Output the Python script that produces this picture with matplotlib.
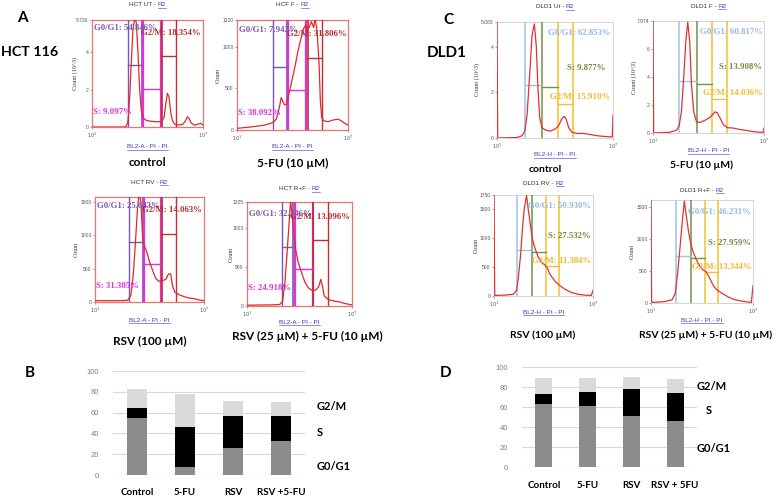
import numpy as np
import matplotlib
matplotlib.use("Agg")
import matplotlib.pyplot as plt
from matplotlib.lines import Line2D

# ---------------- data ----------------
# cell-cycle percentages (control, 5-FU, RSV, RSV+5-FU)
HCT_G0G1 = [54.846, 7.942, 25.643, 32.246]
HCT_S = [9.097, 38.092, 31.305, 24.918]
HCT_G2M = [18.354, 31.806, 14.063, 13.096]
DLD_G0G1 = [62.853, 60.817, 50.930, 46.231]
DLD_S = [9.877, 13.908, 27.532, 27.959]
DLD_G2M = [15.910, 14.036, 11.384, 13.344]

HCT_BAR_CATS = ["Control", "5-FU", "RSV", "RSV +5-FU"]
DLD_BAR_CATS = ["Control", "5-FU", "RSV", "RSV + 5FU"]

# histogram traces: x = position along the log PI axis (% of axis), y = count
HCT_UT_X = [0, 29.4, 30.9, 32.4, 33.9, 35.4, 36.9, 38.4, 39.9, 41.4, 42.9, 44.4, 45.9, 48.9, 53.5, 59.5, 62.5,
            64.9, 66.4, 67.9, 69.4, 70.9, 72.4, 74.5, 77.5, 82.0, 84.4, 85.9, 87.4, 89.5, 92.5, 95.5, 97.9, 100]
HCT_UT_Y = [0, 0, 0.05, 0.3, 1.5, 3.5, 5.2, 5.8, 5.6, 4.0, 2.0, 0.9, 0.5, 0.35, 0.3, 0.28, 0.3,
            0.5, 1.2, 1.8, 1.6, 0.8, 0.35, 0.15, 0.1, 0.15, 0.35, 0.55, 0.45, 0.2, 0.1, 0.15, 0.2, 0.1]
HCT_F_X = [0, 11.4, 23.4, 29.4, 32.4, 35.4, 37.8, 39.9, 41.4, 42.9, 44.4, 46.2, 48.9, 51.9, 55.0, 58.0, 60.1,
           61.9, 63.1, 64.9, 67.0, 69.1, 70.3, 72.1, 73.9, 75.1, 76.3, 78.1, 82.0, 86.5, 91.0, 94.0, 97.0, 100]
HCT_F_Y = [20, 35, 55, 75, 90, 130, 250, 390, 340, 300, 310, 400, 560, 740, 950, 1120, 1220,
           1260, 1200, 1230, 1300, 1230, 1340, 1200, 800, 350, 150, 110, 100, 120, 130, 110, 80, 60]
HCT_RV_X = [0, 23.8, 29.9, 32.9, 35.1, 37.5, 39.0, 40.5, 42.1, 43.6, 45.1, 47.6, 49.7, 52.7, 55.8, 58.8, 61.9,
            65.0, 67.4, 69.5, 71.0, 73.2, 77.1, 81.7, 86.3, 90.9, 95.4, 100]
HCT_RV_Y = [20, 20, 25, 100, 400, 1000, 1400, 1650, 1500, 1000, 850, 750, 620, 480, 350, 310, 320,
            340, 420, 420, 250, 150, 110, 80, 60, 50, 30, 20]
HCT_RF_X = [0, 24.9, 31.3, 33.9, 36.1, 38.3, 40.3, 41.5, 43.1, 44.7, 46.6, 48.9, 52.1, 55.3, 58.5, 61.7, 64.9,
            68.1, 70.3, 71.9, 73.5, 77.6, 84.0, 88.8, 93.6, 100]
HCT_RF_Y = [10, 15, 20, 60, 300, 700, 1100, 1340, 1150, 900, 700, 550, 420, 300, 230, 200, 200,
            240, 340, 250, 130, 80, 60, 50, 30, 15]
DLD_UT_X = [0, 0.6, 17.2, 21.6, 23.9, 25.9, 28.2, 30.2, 32.2, 33.9, 35.3, 36.8, 38.8, 41.7, 46.0, 50.3, 53.2,
            56.0, 58.0, 59.8, 61.8, 64.7, 69.0, 74.7, 80.5, 86.2, 92.0, 97.7, 99.4, 100]
DLD_UT_Y = [5.2, 0, 0.02, 0.1, 0.3, 1.0, 2.8, 4.5, 5.0, 4.0, 2.2, 0.9, 0.45, 0.35, 0.3, 0.4, 0.55,
            0.85, 0.95, 0.8, 0.45, 0.25, 0.2, 0.2, 0.15, 0.1, 0.07, 0.05, 0.05, 1.0]
DLD_F_X = [0, 0.6, 15.1, 21.1, 23.5, 25.6, 27.7, 29.5, 31.3, 33.1, 34.6, 36.7, 39.2, 42.2, 46.7, 51.2, 53.6,
           55.7, 57.8, 60.2, 63.3, 66.9, 72.3, 78.3, 84.3, 90.4, 96.4, 99.4, 100]
DLD_F_Y = [8.1, 0, 0.05, 0.2, 0.5, 1.5, 4.0, 6.5, 7.9, 6.5, 3.5, 1.5, 0.8, 0.75, 0.9, 1.1, 1.3,
           1.5, 1.45, 1.1, 0.6, 0.38, 0.35, 0.25, 0.18, 0.1, 0.05, 0.05, 0.35]
DLD_RV_X = [0, 0.7, 11.1, 19.5, 22.8, 24.5, 26.8, 28.9, 30.5, 31.9, 32.9, 34.6, 36.6, 38.6, 41.3, 44.6, 48.0,
            51.3, 54.0, 56.4, 59.7, 63.1, 66.4, 71.5, 78.2, 84.9, 91.6, 98.3, 100]
DLD_RV_Y = [1800, 10, 15, 30, 100, 300, 700, 1200, 1500, 1650, 1740, 1500, 1250, 1000, 830, 680, 580,
            540, 480, 380, 300, 230, 180, 120, 60, 30, 15, 10, 100]
DLD_RF_X = [0, 0.6, 12.7, 20.6, 23.8, 26.0, 28.6, 30.8, 32.7, 34.3, 36.5, 38.7, 41.3, 44.4, 47.6, 50.8, 54.0,
            56.5, 58.7, 61.9, 65.1, 69.8, 76.2, 82.5, 88.9, 95.2, 98.4, 100]
DLD_RF_Y = [1650, 10, 20, 50, 150, 450, 900, 1300, 1600, 1400, 1150, 950, 800, 680, 580, 520, 490,
            420, 350, 250, 200, 150, 90, 50, 30, 15, 10, 270]

# gate boundaries (% of axis) and gate marker levels (counts)
HCT_UT_GATES = [32.4, 45.0, 45.9, 62.5, 63.1, 76.0]
HCT_F_GATES = [32.4, 45.0, 46.2, 62.5, 63.6, 76.6]
HCT_RV_GATES = [31.4, 43.6, 44.5, 61.0, 61.9, 74.1]
HCT_RF_GATES = [32.9, 44.1, 45.7, 62.6, 63.3, 76.7]
DLD_UT_GATES = [23.9, 38.8, 52.6, 65.2]
DLD_F_GATES = [23.5, 39.2, 53.3, 66.3]
DLD_RV_GATES = [23.5, 38.6, 52.3, 65.4]
DLD_RF_GATES = [24.8, 39.0, 53.3, 65.7]
HCT_UT_MARKS = [3.3, 2.04, 3.8]
HCT_F_MARKS = [760, 476, 860]
HCT_RV_MARKS = [900, 575, 1025]
HCT_RF_MARKS = [746, 470, 847]
DLD_UT_MARKS = [2.31, 2.24, 1.51]
DLD_F_MARKS = [3.67, 3.5, 2.41]
DLD_RV_MARKS = [793, 764, 523]
DLD_RF_MARKS = [740, 708, 480]

# ---------------- figure ----------------
W, H = 776, 497
fig = plt.figure(figsize=(W / 100, H / 100), dpi=100)
renderer = fig.canvas.get_renderer()
SANS = ["Lato", "DejaVu Sans"]
SMALL = ["Liberation Sans", "DejaVu Sans"]
SERIF = ["Liberation Serif", "DejaVu Serif"]
LINK = "#3a3ac8"


def ax_px(l, t, r, b):
    return fig.add_axes([l / W, 1 - b / H, (r - l) / W, (b - t) / H])


def ftext(x, y, s, **kw):
    kw.setdefault("ha", "center")
    kw.setdefault("va", "center")
    return fig.text(x / W, 1 - y / H, s, **kw)


def linked(cx, cy, prefix, link, size=4.6):
    t1 = fig.text(0, 1 - cy / H, prefix, fontsize=size, color="#333333", family=SMALL, va="center")
    t2 = fig.text(0, 1 - cy / H, link, fontsize=size, color=LINK, family=SMALL, va="center")
    w1 = t1.get_window_extent(renderer).width
    w2 = t2.get_window_extent(renderer).width
    x0 = cx - (w1 + w2) / 2
    t1.set_x(x0 / W)
    t2.set_x((x0 + w1) / W)
    fig.add_artist(Line2D([(x0 + w1) / W, (x0 + w1 + w2) / W], [1 - (cy + 3.2) / H] * 2,
                          color=LINK, lw=0.4))


def histogram(box, x, y, ymax, yticks, yticklabels, gates, marks, pct, texts, kind,
              title, xlab, title_y, xlab_y, ylabel, ylab_x):
    l, t, r, b = box
    ax = ax_px(l, t, r, b)
    ax.set_xlim(0, 100)
    ax.set_ylim(0, ymax)
    if kind == "hct":
        cols = ["#7b56b0", "#7b56b0", "#e030e0", "#e030e0", "#c03030", "#c03030"]
        lws = [1.0, 1.2, 1.6, 1.6, 1.2, 1.0]
        for g, c, w in zip(gates, cols, lws):
            ax.axvline(g, color=c, lw=w, zorder=3)
        seg = [(gates[0], gates[1], cols[0]), (gates[2], gates[3], cols[2]), (gates[4], gates[5], cols[4])]
        tcols = ["#7b56b0", "#e030e0", "#b03030"]
        for s in ax.spines.values():
            s.set_color("#e87474")
            s.set_linewidth(0.9)
        ax.plot(x, y, color="#e02828", lw=0.9, zorder=4)
    else:
        cols = ["#9cc3e6", "#6e9448", "#f2c12e", "#f2c12e"]
        for g, c in zip(gates, cols):
            ax.axvline(g, color=c, lw=1.1, zorder=3)
        seg = [(gates[0], gates[1], cols[0]), (gates[1], gates[2], cols[1]), (gates[2], gates[3], cols[2])]
        tcols = ["#93b8e3", "#6f8c3a", "#f0bb25"]
        for s in ax.spines.values():
            s.set_color("#cfcfcf")
            s.set_linewidth(0.6)
        ax.plot(x, y, color="#e53030", lw=0.9, zorder=4)
    for (x0, x1, c), m in zip(seg, marks):
        ax.plot([x0, x1], [m, m], color=c, lw=1.0, zorder=3)
    labels = ["G0/G1: %.3f%%" % pct[0], "S: %.3f%%" % pct[1], "G2/M: %.3f%%" % pct[2]]
    for lab, c, (tx, ty, ha) in zip(labels, tcols, texts):
        ax.text(tx, ty, lab, color=c, fontsize=6.3, family=SERIF, fontweight="bold",
                ha=ha, va="center", zorder=5)
    ax.set_yticks(yticks)
    ax.set_yticklabels(yticklabels)
    ax.set_xticks([0, 100])
    ax.set_xticklabels(["$10^1$", "$10^7$"])
    ax.set_xticks(np.linspace(0, 100, 7), minor=True)
    ax.tick_params(labelsize=3.6, colors="#555555", length=1.5, width=0.4, pad=1)
    ax.tick_params(which="minor", length=1, width=0.3)
    for lab in ax.get_xticklabels() + ax.get_yticklabels():
        lab.set_family(SMALL)
    cx = (l + r) / 2
    linked(cx, title_y, title, "R2")
    xl = ftext(cx, xlab_y, xlab, fontsize=4.6, color=LINK, family=SMALL)
    wl = xl.get_window_extent(renderer).width
    fig.add_artist(Line2D([(cx - wl / 2) / W, (cx + wl / 2) / W], [1 - (xlab_y + 3.2) / H] * 2,
                          color=LINK, lw=0.4))
    ftext(ylab_x, (t + b) / 2, ylabel, fontsize=4.4, color="#333333", family=SERIF, rotation=90)
    return ax


# ---------- HCT 116 ----------
histogram((92, 20, 203, 127), HCT_UT_X, HCT_UT_Y, 5.726, [0, 2, 4, 5.726], ["0", "2", "4", "5.726"],
          HCT_UT_GATES, HCT_UT_MARKS, [HCT_G0G1[0], HCT_S[0], HCT_G2M[0]],
          [(1.8, 5.3, "left"), (1.0, 0.82, "left"), (97.5, 5.04, "right")], "hct",
          "HCT UT - ", "BL2-A - PI - PI", 5, 147, "Count (10^3)", 75)
histogram((237, 20, 348, 130), HCT_F_X, HCT_F_Y, 1320, [0, 500, 1000, 1320], ["0", "500", "1000", "1320"],
          HCT_F_GATES, HCT_F_MARKS, [HCT_G0G1[1], HCT_S[1], HCT_G2M[1]],
          [(1.8, 1200, "left"), (1.0, 208, "left"), (98.5, 1148, "right")], "hct",
          "HCF F - ", "BL2-A - PI - PI", 5, 147, "Count", 218)
histogram((95, 197, 204, 302), HCT_RV_X, HCT_RV_Y, 1575, [0, 500, 1000, 1500], ["0", "500", "1000", "1500"],
          HCT_RV_GATES, HCT_RV_MARKS, [HCT_G0G1[2], HCT_S[2], HCT_G2M[2]],
          [(1.8, 1440, "left"), (1.0, 240, "left"), (98.5, 1375, "right")], "hct",
          "HCT RV - ", "BL2-A - PI - PI", 182, 320, "Count", 76)
histogram((247, 202, 352, 306), HCT_RF_X, HCT_RF_Y, 1325, [0, 500, 1000, 1325], ["0", "500", "1000", "1325"],
          HCT_RF_GATES, HCT_RF_MARKS, [HCT_G0G1[3], HCT_S[3], HCT_G2M[3]],
          [(1.9, 1178, "left"), (1.0, 233, "left"), (98.4, 1135, "right")], "hct",
          "HCT R+F - ", "BL2-A - PI - PI", 189, 322, "Count", 231)

# ---------- DLD1 ----------
histogram((497, 22, 613, 138), DLD_UT_X, DLD_UT_Y, 5.083, [0, 2, 4, 5.083], ["0", "2", "4", "5.083"],
          DLD_UT_GATES, DLD_UT_MARKS, [DLD_G0G1[0], DLD_S[0], DLD_G2M[0]],
          [(97.7, 4.59, "right"), (93.4, 3.05, "right"), (97.7, 1.8, "right")], "dld",
          "DLD1 Ut - ", "BL2-H - PI - PI", 7, 155, "Count (10^3)", 477)
histogram((653, 21, 764, 133), DLD_F_X, DLD_F_Y, 7.974, [0, 2, 4, 6, 7.974], ["0", "2", "4", "6", "7.974"],
          DLD_F_GATES, DLD_F_MARKS, [DLD_G0G1[1], DLD_S[1], DLD_G2M[1]],
          [(99.0, 7.2, "right"), (98.5, 4.7, "right"), (99.0, 2.85, "right")], "dld",
          "DLD1 F - ", "BL2-H - PI - PI", 6, 151, "Count (10^3)", 634)
histogram((494, 195, 593, 296), DLD_RV_X, DLD_RV_Y, 1750, [0, 500, 1000, 1500, 1750],
          ["0", "500", "1000", "1500", "1750"],
          DLD_RV_GATES, DLD_RV_MARKS, [DLD_G0G1[2], DLD_S[2], DLD_G2M[2]],
          [(98.3, 1552, "right"), (97.7, 1035, "right"), (98.3, 610, "right")], "dld",
          "DLD1 RV - ", "BL2-H - PI - PI", 183, 312, "Count", 476)
histogram((651, 200, 753, 303), DLD_RF_X, DLD_RF_Y, 1615, [0, 500, 1000, 1500], ["0", "500", "1000", "1500"],
          DLD_RF_GATES, DLD_RF_MARKS, [DLD_G0G1[3], DLD_S[3], DLD_G2M[3]],
          [(98.4, 1432, "right"), (97.8, 948, "right"), (98.4, 562, "right")], "dld",
          "DLD1 R+F - ", "BL2-H - PI - PI", 190, 320, "Count", 632)

# condition labels
COND = dict(fontsize=8.5, fontweight="bold", family=SANS, color="black")
COND2 = dict(fontsize=7.5, fontweight="bold", family=SANS, color="black")
ftext(147, 163, "control", **COND)
ftext(293, 163, "5-FU (10 µM)", **COND)
ftext(150, 341, "RSV (100 µM)", **COND)
ftext(307, 336, "RSV (25 µM) + 5-FU (10 µM)", **COND)
ftext(545, 170, "control", **COND2)
ftext(702, 165, "5-FU (10 µM)", **COND2)
ftext(543, 335, "RSV (100 µM)", **COND2)
ftext(706, 335, "RSV (25 µM) + 5-FU (10 µM)", **COND2)

# panel labels
PL = dict(fontsize=11, fontweight="bold", family=SANS, color="black")
ftext(22, 18, "A", **PL)
ftext(1, 52, "HCT 116", ha="left", fontsize=10.3, fontweight="bold", family=SANS)
ftext(448, 20, "C", **PL)
ftext(447, 53, "DLD1", **PL)
ftext(30, 373, "B", **PL)
ftext(446, 373, "D", **PL)


# ---------- stacked bars ----------
def stacked(box, cats, g0, s, g2, width, lab_dy, right_labels):
    ax = ax_px(*box)
    xs = np.arange(len(cats))
    ax.bar(xs, g0, width, color="#8c8c8c", zorder=3)
    ax.bar(xs, s, width, bottom=g0, color="black", zorder=3)
    ax.bar(xs, g2, width, bottom=np.add(g0, s), color="#dadada", zorder=3)
    ax.set_xlim(-0.5, len(cats) - 0.5)
    ax.set_ylim(0, 100)
    ax.set_yticks(range(0, 101, 20))
    ax.yaxis.grid(True, color="#d9d9d9", lw=0.8, zorder=0)
    ax.set_axisbelow(True)
    for sp in ax.spines.values():
        sp.set_visible(False)
    ax.set_xticks([])
    ax.tick_params(axis="y", length=0, labelsize=5.5, labelcolor="#808080", pad=10)
    for lab in ax.get_yticklabels():
        lab.set_family(SMALL)
    for xi, c in zip(xs, cats):
        ax.text(xi, -lab_dy, c, transform=ax.get_xaxis_transform(), ha="center", va="center",
                fontsize=7, fontweight="bold", family=SANS)
    for (px, py, txt) in right_labels:
        ftext(px, py, txt, ha="left", fontsize=8, fontweight="bold", family=SANS)
    return ax


stacked((113, 371, 305, 475), HCT_BAR_CATS, HCT_G0G1, HCT_S, HCT_G2M, 0.4, 0.165,
        [(317, 407, "G2/M"), (317, 433, "S"), (317, 467, "G0/G1")])
stacked((522, 367, 697, 467), DLD_BAR_CATS, DLD_G0G1, DLD_S, DLD_G2M, 0.39, 0.19,
        [(697, 386, "G2/M"), (706, 410, "S"), (697, 448, "G0/G1")])

fig.savefig("out.png", dpi=100)
